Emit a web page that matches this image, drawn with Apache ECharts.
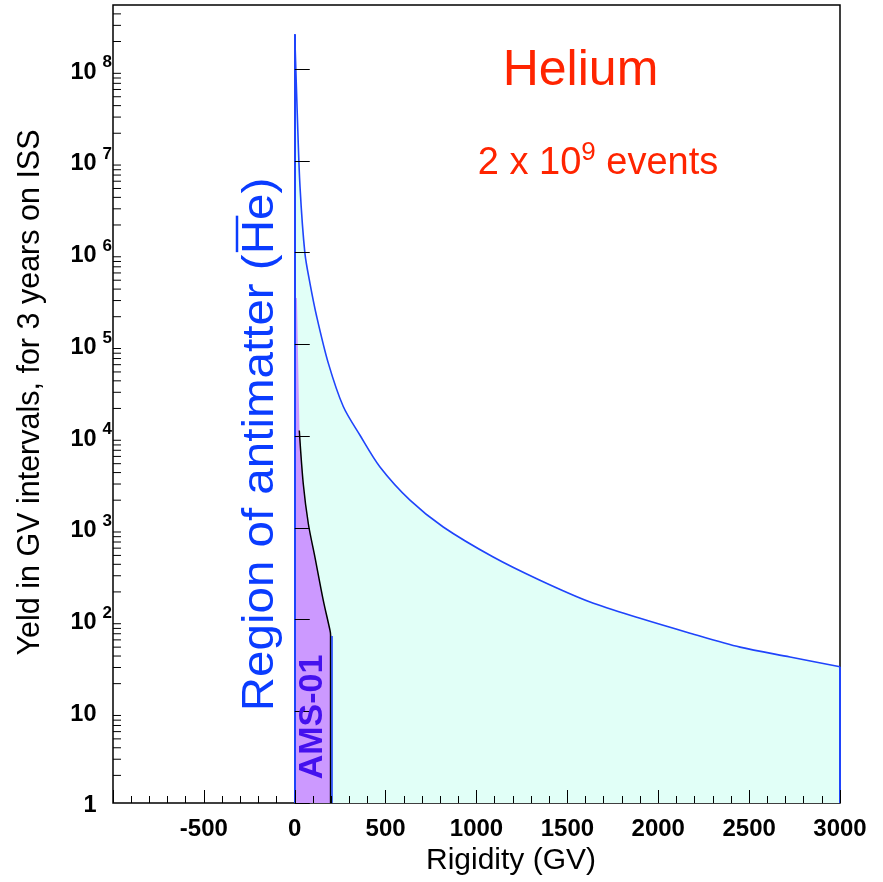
<!DOCTYPE html>
<html>
<head>
<meta charset="utf-8">
<script src="https://cdn.jsdelivr.net/npm/echarts@6/dist/echarts.min.js"></script>
<style>html,body{margin:0;padding:0;background:#fff;}#chart{width:883px;height:882px;}</style>
</head>
<body>
<div id="chart"></div>
<script>
// ---- data ----
const heliumRigidity = [0, 14, 29, 56, 84, 121, 185, 267, 359, 469, 634, 817, 1092, 1349, 1625, 1900, 2175, 2450, 2725, 3000];
const heliumYield    = [2.4e8, 3.2e7, 5.2e6, 9.8e5, 4.6e5, 2.0e5, 6.2e4, 2.1e4, 1.02e4, 4.6e3, 2.0e3, 1.02e3, 480, 268, 155, 103, 71, 50, 39, 30.5];

const ams01Rigidity = [0, 12, 26, 47, 75, 111, 157, 194, 202];
const ams01Yield    = [3.2e5, 3.2e5, 1.15e4, 3.0e3, 1.1e3, 480, 162, 76, 66];

const fitRigidity = [25, 47, 75, 111, 157, 194, 197, 197];
const fitYield    = [1.15e4, 3.0e3, 1.1e3, 480, 162, 76, 68, 1];

const xTickLabels = [-500, 0, 500, 1000, 1500, 2000, 2500, 3000];
const yDecades = [0, 1, 2, 3, 4, 5, 6, 7, 8];

const X_MIN = -1000, X_MAX = 3000, Y_MIN = 1, Y_MAX = 5e8;

// ---- styles ----
const FF = '"Liberation Sans", Arial, Helvetica, sans-serif';
const BLUE = '#1f44fb';
const TEXT_BLUE = '#0a3cff';
const CYAN = '#e1fff7';
const PURPLE = '#cc99ff';
const RED = '#ff2400';

// minor tick values 2..9 x 10^k (ROOT-style log minor ticks)
const yMinor = [];
yDecades.forEach(k => { for (let m = 2; m <= 9; m++) { const v = m * Math.pow(10, k); if (v < Y_MAX) yMinor.push([X_MIN, v]); } });

const pairs = (xs, ys) => xs.map((x, i) => [x, ys[i]]);

// measure text for the overline on "He"
const mctx = document.createElement('canvas').getContext('2d');
const REGION_FS = 44;
mctx.font = REGION_FS + 'px ' + FF;
const regionText = 'Region of antimatter (He)';
const wAll = mctx.measureText(regionText).width;
const wPre = mctx.measureText('Region of antimatter (').width;
const wH = mctx.measureText('H').width;

const chart = echarts.init(document.getElementById('chart'), null, {renderer: 'canvas'});

const option = {
  animation: false,
  backgroundColor: '#fff',
  textStyle: {fontFamily: FF},
  grid: {left: 113, right: 43, top: 5, bottom: 79, show: true, borderColor: '#000', borderWidth: 1.5, backgroundColor: 'transparent'},
  xAxis: {
    type: 'value', min: X_MIN, max: X_MAX, interval: 500, z: 5,
    name: 'Rigidity (GV)', nameLocation: 'middle', nameGap: 40,
    nameTextStyle: {fontFamily: FF, fontSize: 30, color: '#000', padding: [0, 0, 0, 69]},
    axisLine: {show: false},
    axisTick: {inside: true, length: 13, lineStyle: {color: '#000', width: 1}},
    minorTick: {show: true, splitNumber: 5, length: 7, lineStyle: {color: '#000', width: 1}},
    axisLabel: {
      margin: 14, fontSize: 24, color: '#000', fontFamily: FF, fontWeight: 'bold', showMinLabel: false,
      formatter: v => (xTickLabels.indexOf(v) >= 0 ? String(v) : '')
    },
    splitLine: {show: false}, minorSplitLine: {show: false}
  },
  yAxis: {
    type: 'log', logBase: 10, min: Y_MIN, max: Y_MAX, splitNumber: 9, z: 5,
    name: 'Yeld in GV intervals, for 3 years on ISS', nameLocation: 'middle', nameGap: 67,
    nameTextStyle: {fontFamily: FF, fontSize: 30.5, color: '#000', padding: [0, 0, 0, 23]},
    axisLine: {show: false},
    axisTick: {inside: true, length: 15, lineStyle: {color: '#000', width: 1}},
    axisLabel: {
      margin: 1, showMaxLabel: false, color: '#000', fontFamily: FF,
      formatter: v => {
        const e = Math.round(Math.log10(v));
        if (yDecades.indexOf(e) < 0) return '';
        if (e === 0) return '{h| }{b|1}{p| }';
        if (e === 1) return '{h| }{b|10}{p| }';
        return '{h| }{b|10}{s|' + e + '}';
      },
      rich: {
        h: {fontSize: 10, lineHeight: 30, width: 0, verticalAlign: 'top'},
        b: {fontSize: 23.5, lineHeight: 24, fontWeight: 'bold', verticalAlign: 'bottom', color: '#000', fontFamily: FF},
        s: {fontSize: 17, lineHeight: 17, fontWeight: 'bold', padding: [0, 0, 0, 6], verticalAlign: 'top', color: '#000', fontFamily: FF},
        p: {fontSize: 17, lineHeight: 17, width: 15.5, verticalAlign: 'top', color: '#000', fontFamily: FF}
      }
    },
    splitLine: {show: false}, minorTick: {show: false}
  },
  series: [
    {
      type: 'line', name: 'Helium', data: pairs(heliumRigidity, heliumYield),
      symbol: 'none', smooth: 0.3, z: 1,
      lineStyle: {color: BLUE, width: 1.6},
      areaStyle: {color: CYAN, origin: 'start', opacity: 1},
      markLine: {
        silent: true, symbol: 'none', label: {show: false}, animation: false,
        lineStyle: {color: BLUE, width: 2, type: 'solid'},
        data: [
          [{coord: [heliumRigidity[0], Y_MIN]}, {coord: [heliumRigidity[0], heliumYield[0]]}],
          [{coord: [heliumRigidity[heliumRigidity.length - 1], Y_MIN]}, {coord: [heliumRigidity[heliumRigidity.length - 1], heliumYield[heliumYield.length - 1]]}]
        ]
      }
    },
    {
      type: 'line', name: 'AMS-01', data: pairs(ams01Rigidity, ams01Yield),
      symbol: 'none', z: 2,
      lineStyle: {width: 0, color: PURPLE},
      areaStyle: {color: PURPLE, origin: 'start', opacity: 1},
      markLine: {
        silent: true, symbol: 'none', label: {show: false}, animation: false,
        lineStyle: {color: BLUE, width: 1.6, type: 'solid'},
        data: [
          [{coord: [ams01Rigidity[0], Y_MIN]}, {coord: [ams01Rigidity[0], ams01Yield[0]]}],
          [{coord: [ams01Rigidity[ams01Rigidity.length - 1], Y_MIN]}, {coord: [ams01Rigidity[ams01Rigidity.length - 1], ams01Yield[ams01Yield.length - 1]]}]
        ]
      }
    },
    {
      type: 'line', name: 'fit', data: pairs(fitRigidity, fitYield),
      symbol: 'none', smooth: 0.3, z: 3,
      lineStyle: {color: '#000', width: 1.5}
    },
    {
      type: 'custom', name: 'minorTicks', silent: true, z: 6, data: yMinor,
      renderItem: (params, api) => {
        const p = api.coord([api.value(0), api.value(1)]);
        return {type: 'line', shape: {x1: p[0], y1: p[1], x2: p[0] + 8, y2: p[1]}, style: {stroke: '#000', lineWidth: 1}};
      }
    }
  ],
  graphic: [
    {type: 'text', x: 580.5, y: 71.7, z: 10,
     style: {text: 'Helium', fontSize: 50, fontFamily: FF, fill: RED, align: 'center', verticalAlign: 'middle'}},
    {type: 'text', x: 598, y: 139.5, z: 10,
     style: {text: '{h| }{a|2 x 10}{s|9}{a| events}', fontFamily: FF, fill: RED, align: 'center', verticalAlign: 'top',
       rich: {
         h: {fontSize: 10, lineHeight: 43, width: 0, verticalAlign: 'top', fill: RED},
         a: {fontSize: 38, lineHeight: 38, verticalAlign: 'bottom', fill: RED, fontFamily: FF},
         s: {fontSize: 26, lineHeight: 26, verticalAlign: 'top', fill: RED, fontFamily: FF}
       }}},
    {type: 'group', x: 261, y: 444.5, rotation: Math.PI / 2, scaleX: 1.08, z: 10,
     children: [
       {type: 'text', x: 0, y: 0,
        style: {text: regionText, fontSize: REGION_FS, fontFamily: FF, fill: TEXT_BLUE, align: 'center', verticalAlign: 'middle'}},
       {type: 'line', shape: {x1: -wAll / 2 + wPre + 2, y1: -24, x2: -wAll / 2 + wPre + wH + 4, y2: -24},
        style: {stroke: TEXT_BLUE, lineWidth: 2.5}}
     ]},
    {type: 'text', x: 313, y: 717, rotation: Math.PI / 2, z: 10,
     style: {text: 'AMS-01', fontSize: 34, fontWeight: 'bold', fontFamily: FF, fill: '#4411ee', align: 'center', verticalAlign: 'middle'}}
  ]
};

chart.setOption(option);
</script>
</body>
</html>
